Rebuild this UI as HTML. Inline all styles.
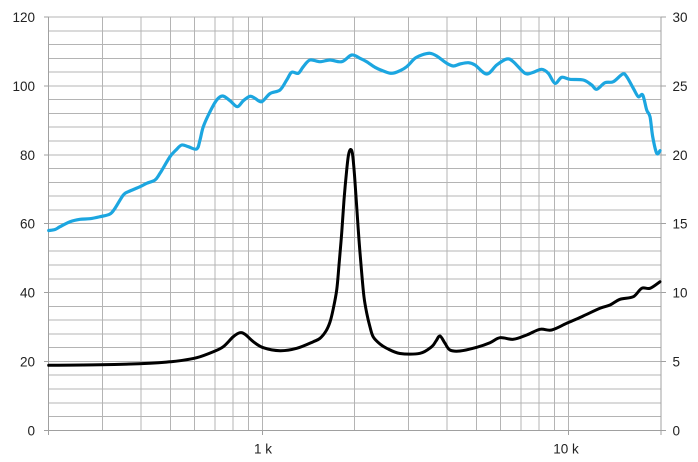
<!DOCTYPE html>
<html><head><meta charset="utf-8"><style>
html,body{margin:0;padding:0;background:#fff;}
svg{display:block;}
text{font-family:"Liberation Sans",Arial,sans-serif;font-size:13.5px;fill:#222;}
</style></head><body>
<svg id="chart" width="698" height="462" viewBox="0 0 698 462" xmlns="http://www.w3.org/2000/svg">
<g stroke="#b4b4b4" stroke-width="1" shape-rendering="crispEdges">
<line x1="48.7" x2="661" y1="17" y2="17"/>
<line x1="48.7" x2="661" y1="30.8" y2="30.8"/>
<line x1="48.7" x2="661" y1="44.6" y2="44.6"/>
<line x1="48.7" x2="661" y1="58.3" y2="58.3"/>
<line x1="48.7" x2="661" y1="72.1" y2="72.1"/>
<line x1="48.7" x2="661" y1="85.9" y2="85.9"/>
<line x1="48.7" x2="661" y1="99.7" y2="99.7"/>
<line x1="48.7" x2="661" y1="113.5" y2="113.5"/>
<line x1="48.7" x2="661" y1="127.2" y2="127.2"/>
<line x1="48.7" x2="661" y1="141.0" y2="141.0"/>
<line x1="48.7" x2="661" y1="154.8" y2="154.8"/>
<line x1="48.7" x2="661" y1="168.6" y2="168.6"/>
<line x1="48.7" x2="661" y1="182.3" y2="182.3"/>
<line x1="48.7" x2="661" y1="196.1" y2="196.1"/>
<line x1="48.7" x2="661" y1="209.9" y2="209.9"/>
<line x1="48.7" x2="661" y1="223.7" y2="223.7"/>
<line x1="48.7" x2="661" y1="237.4" y2="237.4"/>
<line x1="48.7" x2="661" y1="251.2" y2="251.2"/>
<line x1="48.7" x2="661" y1="265.0" y2="265.0"/>
<line x1="48.7" x2="661" y1="278.8" y2="278.8"/>
<line x1="48.7" x2="661" y1="292.6" y2="292.6"/>
<line x1="48.7" x2="661" y1="306.3" y2="306.3"/>
<line x1="48.7" x2="661" y1="320.1" y2="320.1"/>
<line x1="48.7" x2="661" y1="333.9" y2="333.9"/>
<line x1="48.7" x2="661" y1="347.7" y2="347.7"/>
<line x1="48.7" x2="661" y1="361.4" y2="361.4"/>
<line x1="48.7" x2="661" y1="375.2" y2="375.2"/>
<line x1="48.7" x2="661" y1="389.0" y2="389.0"/>
<line x1="48.7" x2="661" y1="402.8" y2="402.8"/>
<line x1="48.7" x2="661" y1="416.5" y2="416.5"/>
<line y1="17" y2="430.3" x1="102.6" x2="102.6"/>
<line y1="17" y2="430.3" x1="140.8" x2="140.8"/>
<line y1="17" y2="430.3" x1="170.5" x2="170.5"/>
<line y1="17" y2="430.3" x1="194.7" x2="194.7"/>
<line y1="17" y2="430.3" x1="215.2" x2="215.2"/>
<line y1="17" y2="430.3" x1="232.9" x2="232.9"/>
<line y1="17" y2="430.3" x1="248.6" x2="248.6"/>
<line y1="17" y2="430.3" x1="262.6" x2="262.6"/>
<line y1="17" y2="430.3" x1="354.7" x2="354.7"/>
<line y1="17" y2="430.3" x1="408.6" x2="408.6"/>
<line y1="17" y2="430.3" x1="446.8" x2="446.8"/>
<line y1="17" y2="430.3" x1="476.5" x2="476.5"/>
<line y1="17" y2="430.3" x1="500.7" x2="500.7"/>
<line y1="17" y2="430.3" x1="521.2" x2="521.2"/>
<line y1="17" y2="430.3" x1="538.9" x2="538.9"/>
<line y1="17" y2="430.3" x1="554.5" x2="554.5"/>
<line y1="17" y2="430.3" x1="568.6" x2="568.6"/>
</g>
<g stroke="#a0a0a0" stroke-width="1" shape-rendering="crispEdges">
<line x1="48.7" x2="48.7" y1="17" y2="435"/>
<line x1="661" x2="661" y1="17" y2="435"/>
<line x1="48.7" x2="661" y1="430.3" y2="430.3"/>
<line x1="44" x2="48.7" y1="17" y2="17"/>
<line x1="44" x2="48.7" y1="85.9" y2="85.9"/>
<line x1="44" x2="48.7" y1="154.8" y2="154.8"/>
<line x1="44" x2="48.7" y1="223.7" y2="223.7"/>
<line x1="44" x2="48.7" y1="292.6" y2="292.6"/>
<line x1="44" x2="48.7" y1="361.4" y2="361.4"/>
<line x1="44" x2="48.7" y1="430.3" y2="430.3"/>
<line x1="661" x2="666" y1="17" y2="17"/>
<line x1="661" x2="666" y1="85.9" y2="85.9"/>
<line x1="661" x2="666" y1="154.8" y2="154.8"/>
<line x1="661" x2="666" y1="223.7" y2="223.7"/>
<line x1="661" x2="666" y1="292.6" y2="292.6"/>
<line x1="661" x2="666" y1="361.4" y2="361.4"/>
<line x1="661" x2="666" y1="430.3" y2="430.3"/>
<line x1="262.6" x2="262.6" y1="430.3" y2="435"/>
<line x1="568.6" x2="568.6" y1="430.3" y2="435"/>
</g>
<polyline class="sm" fill="none" stroke="#1ca6e0" stroke-width="3.2" stroke-linejoin="round" stroke-linecap="round" points="48.7,230.5 55,229.5 60,226.7 70,221.7 80,219.3 90,218.7 100,216.7 110,214 115,208.3 123.3,195 128.3,191.7 140,186.7 146.7,183.3 155,180 160,173.3 170,156.7 176,150 181.7,145 188.3,146.7 196.7,149 200,140 203.3,126.7 210,111.7 216.7,100 222.7,96 230,100.7 237.3,106.7 243.3,100.7 250,96.3 255,98.3 261.7,101.7 270,93.6 280,90 286.7,80 291.7,72.3 298.3,73.3 303.3,66.7 310,60 320,61.7 330,60 341.7,61.7 351.7,55 360,58.3 366.7,61.7 375,67.3 383.3,71 391.7,73.3 400,70.7 406.7,66.7 415,58.3 421.7,55 430,53.3 436.7,56 446.7,63.3 453.3,66 460,64 468.3,62.7 475,65 486.7,74 496.7,65 506.7,59 513.3,61.7 525,73.3 533.3,72.3 541.7,69.3 548.3,73.3 555,83.3 561.7,77.3 570,79.3 583.3,80 591.7,85 596.7,89.3 605,82.7 613.3,81.7 622.7,74 626.7,76.7 633.3,88.3 638.3,96.7 642.7,95 646.7,110 650,116.7 652.7,136.7 656.7,153.3 660,150.7"/>
<polyline class="sm" fill="none" stroke="#000" stroke-width="3" stroke-linejoin="round" stroke-linecap="round" points="48.7,365.3 100,364.8 150,363.3 170,361.8 180,360.7 196.7,357.7 213.3,351.7 223.3,346.7 233.3,336.7 240,332.7 245,334.3 253.3,341.7 263.3,347.7 280,350.7 296.7,348.3 313.3,341.7 320,338.3 326,331 330,322 333,310 336.7,290 339,265 341.7,233 344,200 346.7,170 348.5,155 350.5,149.5 352.5,154 354.5,175 356.7,206.7 359,240 361.7,273 364,297 366.7,313 370,327 373.3,337 380,344 386.7,348.3 400,353.5 420,353.3 431.7,346.7 436,341 440,336 445,343.3 450,350 460,351 476.7,347.3 490,342.7 500,337.7 513.3,339.3 526.7,335 540,329.3 551.7,330 566.7,323.3 581.7,316.7 600,308.3 610,305 620,299.3 633.3,296.7 641.7,288.3 650,288.3 660,281.7"/>
<g text-anchor="end">
<text x="35" y="22">120</text>
<text x="35" y="90.9">100</text>
<text x="35" y="159.8">80</text>
<text x="35" y="228.7">60</text>
<text x="35" y="297.6">40</text>
<text x="35" y="366.4">20</text>
<text x="35" y="435.3">0</text>
</g>
<g text-anchor="start">
<text x="672.5" y="22">30</text>
<text x="672.5" y="90.9">25</text>
<text x="672.5" y="159.8">20</text>
<text x="672.5" y="228.7">15</text>
<text x="672.5" y="297.6">10</text>
<text x="672.5" y="366.4">5</text>
<text x="672.5" y="435.3">0</text>
</g>
<g text-anchor="middle">
<text x="263" y="453.5">1 k</text>
<text x="566" y="453.5">10 k</text>
</g>
</svg>
<script>
(function(){
var ns="http://www.w3.org/2000/svg";
var pls=document.querySelectorAll("polyline.sm");
for(var k=0;k<pls.length;k++){
var pl=pls[k];
var raw=pl.getAttribute("points").trim().split(/\s+/).map(function(s){var a=s.split(",");return [parseFloat(a[0]),parseFloat(a[1])];});
var d="M"+raw[0][0]+","+raw[0][1];
for(var i=0;i<raw.length-1;i++){
var p0=raw[i>0?i-1:0],p1=raw[i],p2=raw[i+1],p3=raw[i+2<raw.length?i+2:i+1];
var c1x=p1[0]+(p2[0]-p0[0])/6,c1y=p1[1]+(p2[1]-p0[1])/6;
var c2x=p2[0]-(p3[0]-p1[0])/6,c2y=p2[1]-(p3[1]-p1[1])/6;
d+=" C"+c1x.toFixed(2)+","+c1y.toFixed(2)+" "+c2x.toFixed(2)+","+c2y.toFixed(2)+" "+p2[0]+","+p2[1];
}
var p=document.createElementNS(ns,"path");
p.setAttribute("d",d);
["fill","stroke","stroke-width","stroke-linejoin","stroke-linecap"].forEach(function(a){p.setAttribute(a,pl.getAttribute(a));});
pl.parentNode.replaceChild(p,pl);
}
})();
</script>
</body></html>
